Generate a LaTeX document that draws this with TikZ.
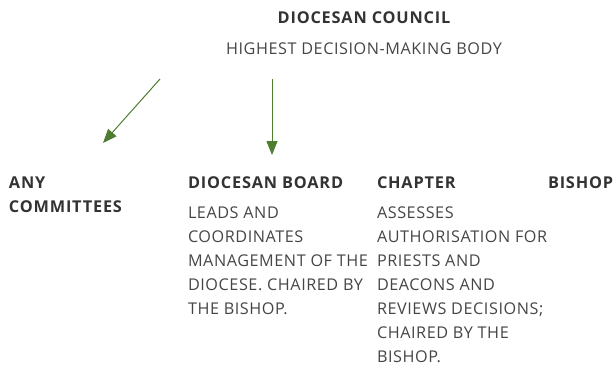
\documentclass[tikz,border=0pt]{standalone}
\usepackage{fontspec}
\setmainfont{Open Sans}
\newfontfamily\headfont[LetterSpace=5]{Open Sans}
\newfontfamily\bodyfont[LetterSpace=3.5]{Open Sans}
\usetikzlibrary{arrows.meta}

\definecolor{leafgreen}{HTML}{4E7D2F}
\definecolor{headgray}{HTML}{333333}
\definecolor{bodygray}{HTML}{454545}

\begin{document}
\begin{tikzpicture}[x=1pt,y=-1pt,
    every node/.style={inner sep=0pt,outer sep=0pt},
    head/.style={anchor=west,text=headgray,font=\fontsize{16.3}{24}\headfont\bfseries},
    sub/.style={anchor=north west,align=left,text=bodygray,font=\fontsize{16.2}{24}\bodyfont},
    link/.style={draw=leafgreen,line width=1pt,-{Triangle[length=14pt,width=11pt]}}]
        \useasboundingbox (0,0) rectangle (616,381);

        \node[head,anchor=center] (council) at (364,17.5) {DIOCESAN COUNCIL};
        \node[anchor=center,text=bodygray,font=\fontsize{16.2}{24}\bodyfont] (role) at (364,49) {HIGHEST DECISION-MAKING BODY};

        \coordinate (from1) at (160,79);
        \coordinate (to1) at (103,143);
        \coordinate (from2) at (272,79);
        \coordinate (to2) at (272,155);

        \node[head] (any) at (9,182.5) {ANY};
        \node[head] (committees) at (9,206.5) {COMMITTEES};
        \node[head] (board) at (188,182.5) {DIOCESAN BOARD};
        \node[head] (chapter) at (377,182.5) {CHAPTER};
        \node[head] (bishop) at (548,182.5) {BISHOP};

        \node[sub] (boardtext) at (188,206.7) {LEADS AND\\COORDINATES\\MANAGEMENT OF THE\\DIOCESE. CHAIRED BY\\THE BISHOP.};
        \node[sub] (chaptertext) at (377,206.7) {ASSESSES\\AUTHORISATION FOR\\PRIESTS AND\\DEACONS AND\\REVIEWS DECISIONS;\\CHAIRED BY THE\\BISHOP.};

        \path [link] (from1) -- (to1);
        \path [link] (from2) -- (to2);
    \end{tikzpicture}
\end{document}
